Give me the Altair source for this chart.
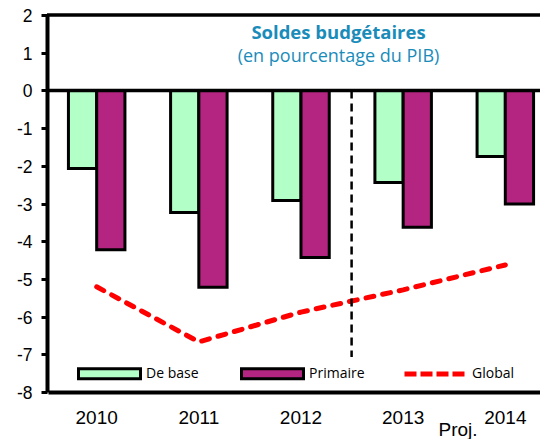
import altair as alt
import pandas as pd

years = ["2010", "2011", "2012", "2013", "2014"]
de_base = [-2.07, -3.24, -2.92, -2.44, -1.75]
primaire = [-4.23, -5.22, -4.43, -3.63, -3.01]
global_ = [-5.21, -6.67, -5.88, -5.29, -4.63]
series = ["De base", "Primaire"]
colors = ["#b3ffc8", "#b42481"]
y_ticks = list(range(-8, 3))
frame_lines = [0, 2]
proj_index = [3]
proj_bottom = [-7.07]

bars_df = pd.DataFrame({
    "year": years * 2,
    "serie": [series[0]] * len(years) + [series[1]] * len(years),
    "value": de_base + primaire,
})
line_df = pd.DataFrame({"year": years, "value": global_, "serie": ["Global"] * len(years)})
frame_df = pd.DataFrame({"v": frame_lines})
proj_df = pd.DataFrame({"x": proj_index, "y1": [0], "y2": proj_bottom})

x_range = [1, 507]
xscale = alt.Scale(domain=years, range=x_range, paddingInner=0.447)
yscale = alt.Scale(domain=[-8, 2], nice=False, zero=False)

xaxis = alt.Axis(
    domainWidth=4, domainColor="black", ticks=False, grid=False,
    labelFont="Liberation Sans", labelFontSize=19, labelColor="black",
    labelPadding=16, labelAngle=0,
    title="Proj.", titleFont="Liberation Sans", titleFontSize=19,
    titleFontWeight="normal", titleColor="black",
    titleX=391, titleY=28, titleAlign="left", titleBaseline="top",
)
yaxis = alt.Axis(
    values=y_ticks, tickCount=11, labelOverlap=False,
    labelExpr="toString(datum.value)",
    domainWidth=4, domainColor="black",
    tickSize=6, tickWidth=3, tickColor="black", grid=False,
    labelFont="Liberation Sans", labelFontSize=17.5, labelColor="black",
    labelPadding=9, labelOffset=1.5, title=None,
)

bars = alt.Chart(bars_df).mark_bar(stroke="black", strokeWidth=3).encode(
    x=alt.X("year:N", scale=xscale, axis=xaxis),
    xOffset=alt.XOffset("serie:N", scale=alt.Scale(domain=series, paddingInner=0, paddingOuter=0)),
    y=alt.Y("value:Q", scale=yscale, axis=yaxis),
    fill=alt.Fill(
        "serie:N",
        scale=alt.Scale(domain=series, range=colors),
        legend=alt.Legend(
            title=None, orient="none", legendX=30, legendY=326,
            direction="horizontal", symbolType="M-1,-0.16H1V0.16H-1Z",
            symbolSize=3844, symbolStrokeColor="black", symbolStrokeWidth=3,
            symbolOpacity=1, labelFont="Open Sans", labelFontSize=14,
            labelColor="black", labelOffset=4, columnPadding=36, padding=0,
        ),
    ),
)

line = alt.Chart(line_df).mark_line(strokeWidth=5, strokeDash=[8, 9], strokeCap="round").encode(
    x=alt.X("year:N", scale=xscale, axis=xaxis),
    y=alt.Y("value:Q", scale=yscale, axis=yaxis),
    stroke=alt.Stroke(
        "serie:N",
        scale=alt.Scale(domain=["Global"], range=["#ff0000"]),
        legend=alt.Legend(
            title=None, orient="none", legendX=355, legendY=326,
            symbolType="stroke", symbolSize=3721, symbolStrokeWidth=5,
            symbolDash=[12, 4], labelFont="Open Sans", labelFontSize=14,
            labelColor="black", labelOffset=4, padding=0,
        ),
    ),
)

hrules = alt.Chart(frame_df).mark_rule(color="black", strokeWidth=3.5).encode(
    y=alt.Y("v:Q", scale=yscale, axis=yaxis)
)

vrule = alt.Chart(proj_df).mark_rule(color="black", strokeWidth=2.5, strokeDash=[8, 5]).encode(
    x=alt.X("x:Q", scale=alt.Scale(domain=[0, 5], range=x_range), axis=None),
    y=alt.Y("y1:Q", scale=yscale, axis=yaxis),
    y2="y2:Q",
)

main = alt.layer(bars, hrules, line)
chart = alt.layer(main, vrule).resolve_scale(x="independent").properties(
    width=493,
    height=377,
    padding={"left": 39, "top": 7, "right": 0, "bottom": 47},
    autosize=alt.AutoSizeParams(type="none"),
    background="white",
    title=alt.TitleParams(
        text="Soldes budgétaires",
        subtitle="(en pourcentage du PIB)",
        font="Open Sans", fontSize=18.5, fontWeight="bold", color="#1a8cba",
        subtitleFont="Open Sans", subtitleFontSize=18, subtitleColor="#1a8cba",
        subtitlePadding=5, anchor="middle", dx=45, offset=-58, frame="group",
    ),
).configure_view(stroke=None)

chart.save("out.html", embed_options={"renderer": "svg", "actions": False})
